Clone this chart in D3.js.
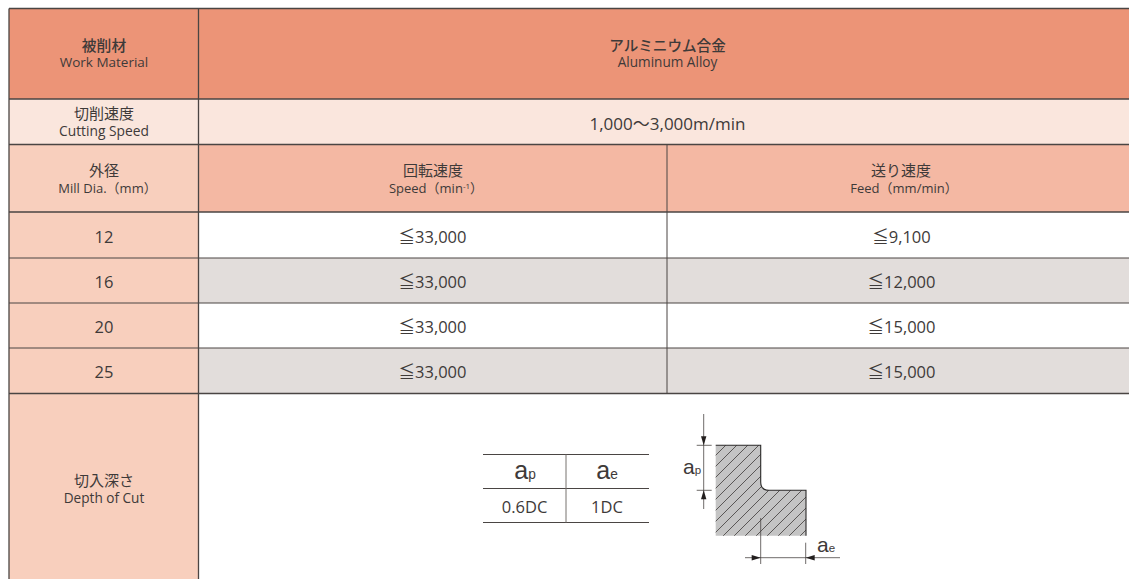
<!DOCTYPE html>
<html>
<head>
<meta charset="utf-8">
<title>切削条件表</title>
<script src="https://d3js.org/d3.v7.min.js"></script>
<style>
  html, body { margin: 0; padding: 0; background: #fff; overflow: hidden; }
  svg { display: block; }
  text { font-family: "Open Sans", "Noto Sans CJK JP", sans-serif; fill: #3e3a39; text-anchor: middle; }
  .jp { font-family: "Noto Sans CJK JP", sans-serif; }
  .sym { font-family: "Liberation Sans", sans-serif; }
</style>
</head>
<body>
<svg width="1129" height="579"></svg>
<script>
// table contents
const diameters = ["12", "16", "20", "25"];
const speeds = ["≦33,000", "≦33,000", "≦33,000", "≦33,000"];
const feeds = ["≦9,100", "≦12,000", "≦15,000", "≦15,000"];
const depthHead = ["p", "e"];
const depthVals = ["0.6DC", "1DC"];

const rowNames = ["material", "cutting", "head", ...diameters, "depth"];
const rowEdges = [8.5, 99, 144.5, 212, 258, 303, 348, 393.5, 600];
const colNames = ["label", "speed", "feed"];
const colEdges = [9, 198.5, 667, 1140];

const rowTop = d3.scaleOrdinal().domain(rowNames).range(rowEdges.slice(0, -1));
const rowBottom = d3.scaleOrdinal().domain(rowNames).range(rowEdges.slice(1));
const colLeft = d3.scaleOrdinal().domain(colNames).range(colEdges.slice(0, -1));
const colRight = d3.scaleOrdinal().domain(colNames).range(colEdges.slice(1));

const svg = d3.select("svg");

// cell backgrounds
const cells = [
  {c0: "label", c1: "label", r: "material", fill: "#ec9477"},
  {c0: "speed", c1: "feed", r: "material", fill: "#ec9477"},
  {c0: "label", c1: "label", r: "cutting", fill: "#fae6dd"},
  {c0: "speed", c1: "feed", r: "cutting", fill: "#fae6dd"},
  {c0: "label", c1: "label", r: "head", fill: "#f8cfbd"},
  {c0: "speed", c1: "speed", r: "head", fill: "#f4b8a3"},
  {c0: "feed", c1: "feed", r: "head", fill: "#f4b8a3"},
  {c0: "label", c1: "label", r: "depth", fill: "#f8cfbd"}
];
diameters.forEach((d, i) => {
  cells.push({c0: "label", c1: "label", r: d, fill: "#f8cfbd"});
  cells.push({c0: "speed", c1: "feed", r: d, fill: i % 2 ? "#e2dddb" : "#ffffff"});
});

svg.append("g").selectAll("rect").data(cells).enter().append("rect")
  .attr("x", d => colLeft(d.c0))
  .attr("y", d => rowTop(d.r))
  .attr("width", d => colRight(d.c1) - colLeft(d.c0))
  .attr("height", d => rowBottom(d.r) - rowTop(d.r))
  .attr("fill", d => d.fill);

// rules
const rules = svg.append("g").attr("stroke", "#4a4543").attr("stroke-width", 1.3);
rowEdges.slice(0, -1).forEach((y, i) => {
  rules.append("line").attr("x1", 9).attr("x2", 1129).attr("y1", y).attr("y2", y)
    .attr("stroke-width", i > 3 && i < 7 ? 1 : 1.4);
});
rules.append("line").attr("x1", 9).attr("x2", 9).attr("y1", 8.5).attr("y2", 579);
rules.append("line").attr("x1", 198.5).attr("x2", 198.5).attr("y1", 8.5).attr("y2", 579);
rules.append("line").attr("x1", 667).attr("x2", 667).attr("y1", 144.5).attr("y2", 393.5).attr("stroke-width", 1);

function label(x, y, str, size, cls) {
  return svg.append("text").attr("x", x).attr("y", y).attr("font-size", size)
    .attr("class", cls || null).text(str);
}

const cx0 = 104, cx1 = 433, cx2 = 901, cxAll = 667.5;

label(cx0, 51, "被削材", 14.8, "jp").attr("font-weight", 500);
label(cx0, 67, "Work Material", 13.5);
label(cxAll, 51, "アルミニウム合金", 14.6, "jp").attr("font-weight", 500);
label(cxAll, 67, "Aluminum Alloy", 13.6);

label(cx0, 119, "切削速度", 15, "jp");
label(cx0, 136, "Cutting Speed", 13.8);
label(cxAll, 129.5, "1,000〜3,000m/min", 17);

label(cx0, 176, "外径", 15, "jp");
label(107.5, 193, "Mill Dia.（mm）", 13);
label(cx1, 176, "回転速度", 15, "jp");
const sp = label(436, 193, "Speed（min", 13);
sp.append("tspan").attr("font-size", 8).attr("dy", -4).text("-1");
sp.append("tspan").attr("dy", 4).text("）");
label(cx2, 176, "送り速度", 15, "jp");
label(904, 193, "Feed（mm/min）", 13);

diameters.forEach((d, i) => {
  const y = rowBottom(d) - 15.5;
  label(cx0, y, d, 16.5);
  label(432.5, y, speeds[i], 16.5);
  label(901.5, y, feeds[i], 16.5);
});

label(cx0, 486, "切入深さ", 15, "jp");
label(cx0, 503, "Depth of Cut", 13.6);

// small ap/ae table
const small = svg.append("g").attr("stroke", "#4a4543").attr("stroke-width", 1);
[454.5, 488.5, 522.5].forEach(y => {
  small.append("line").attr("x1", 483).attr("x2", 649).attr("y1", y).attr("y2", y);
});
small.append("line").attr("x1", 566).attr("x2", 566).attr("y1", 454.5).attr("y2", 522.5)
  .attr("stroke", "#77726f");

function subA(x, y, size, sub) {
  const t = label(x, y, "a", size, "sym");
  t.append("tspan").attr("font-size", size * 0.55).text(sub);
  return t;
}
depthHead.forEach((s, i) => {
  subA([525, 607][i], 479, 25, s);
  label([524.5, 607][i], 513, depthVals[i], 16.5);
});

// ap/ae section drawing
const profile = "M715.7,445.3H760.7V482Q760.7,490.3 769,490.3H806V535.7H715.7Z";
const clip = svg.append("clipPath").attr("id", "sect");
clip.append("path").attr("d", profile);
svg.append("path").attr("d", profile).attr("fill", "#c4c4c4");

const hatch = svg.append("g").attr("clip-path", "url(#sect)").attr("stroke", "#3e3a39").attr("stroke-width", 0.8);
d3.range(726, 910, 11).forEach(x => {
  hatch.append("line").attr("x1", x).attr("y1", 445).attr("x2", x - 100).attr("y2", 545);
});

svg.append("path").attr("fill", "none").attr("stroke", "#2b2928").attr("stroke-width", 1.1)
  .attr("d", "M715.7,445.3H760.7V482Q760.7,490.3 769,490.3H806V535.7");

const dim = svg.append("g").attr("stroke", "#4a4543").attr("stroke-width", 0.8);
[
  [703.7, 414, 703.7, 509],
  [696.7, 445.3, 711.7, 445.3], [696.7, 490.3, 711.7, 490.3],
  [760.7, 518, 760.7, 564], [805.7, 542.7, 805.7, 564],
  [745, 557.7, 840, 557.7]
].forEach(l => {
  dim.append("line").attr("x1", l[0]).attr("y1", l[1]).attr("x2", l[2]).attr("y2", l[3]);
});

const arrows = svg.append("g").attr("fill", "#231f1e");
arrows.append("path").attr("d", "M703.7,445.3l-2.7,-9h5.4Z");
arrows.append("path").attr("d", "M703.7,490.3l-2.7,9h5.4Z");
arrows.append("path").attr("d", "M760.7,557.7l-9,-2.7v5.4Z");
arrows.append("path").attr("d", "M805.7,557.7l9,-2.7v5.4Z");

subA(692, 474, 21, "p");
subA(826, 551.7, 21, "e");
</script>
</body>
</html>
